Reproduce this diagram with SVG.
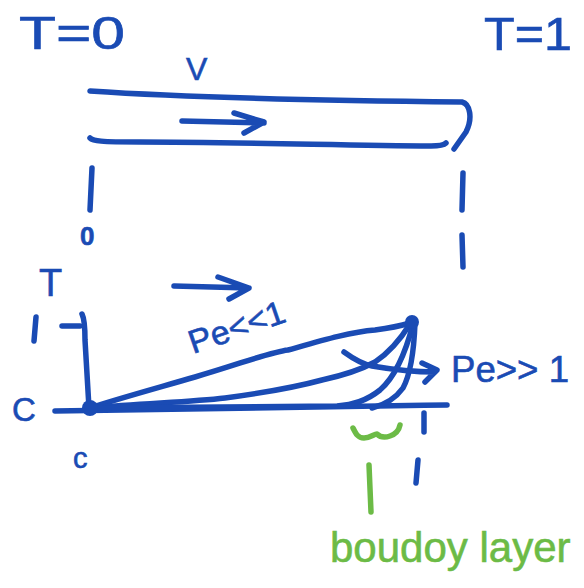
<svg xmlns="http://www.w3.org/2000/svg" width="584" height="588" viewBox="0 0 584 588">
<style>
.b{fill:none;stroke:#1a4bb4;stroke-width:5.5;stroke-linecap:round;stroke-linejoin:round}
.g{fill:none;stroke:#6cbb46;stroke-width:5.5;stroke-linecap:round;stroke-linejoin:round}
.bt{fill:#1a4bb4;stroke:#1a4bb4;stroke-width:0.6;font-family:"Liberation Sans",Arial,sans-serif}
.gt{fill:#6cbb46;stroke:#6cbb46;stroke-width:0.6;font-family:"Liberation Sans",Arial,sans-serif}
.dot{fill:#1a4bb4}
</style>
<rect width="584" height="588" fill="#ffffff"/>
<!-- top labels -->
<text class="bt" x="19" y="49" font-size="46" textLength="106" lengthAdjust="spacingAndGlyphs">T=0</text>
<text class="bt" x="484" y="50" font-size="46" textLength="88" lengthAdjust="spacingAndGlyphs">T=1</text>
<text class="bt" x="186" y="80" font-size="32">V</text>
<!-- pipe -->
<g id="pipe">
<path class="b" d="M90,91 C150,95 262,100 462,102 C470,104 473,118 466,132 L454,149"/>
<path class="b" d="M90,138 C93,141 100,142 140,142 C225,142 337,145 431,146 C440,146 444,145 446,143"/>
<path class="b" d="M182,121 L264,123 M234,113 L264,122 L244,133"/>
</g>
<!-- dashed guides -->
<g id="guides">
<path class="b" d="M92,168 L90,210"/>
<path class="b" d="M463,173 L462,210 M462,235 L463,267"/>
</g>
<text class="bt" x="80" y="245" font-size="26" font-weight="bold">0</text>
<!-- plot -->
<text class="bt" x="39" y="296" font-size="38">T</text>
<path class="b" d="M174,286 L249,288 M218,277 L249,288 L229,299"/>
<g id="axes">
<path class="b" d="M82,314 C84,318 85,325 85,340 L89,408"/>
<path class="b" d="M62,326 L80,326"/>
<path class="b" d="M36,317 L34,341"/>
<path class="b" d="M55,411 C150,409 300,407 447,405"/>
<path class="b" d="M424,413 L424,432"/>
</g>
<text class="bt" x="12" y="421" font-size="33">C</text>
<text class="bt" x="73" y="468" font-size="29">c</text>
<g id="curves">
<path class="b" d="M90,408 C110,401 150,390 195,377 C240,364 270,352 288,350 C320,341 350,332 375,330 C390,328 400,326 410,323"/>
<path class="b" d="M90,408 C150,403 190,402 225,398 C270,392 300,386 322,380 C345,375 362,369 375,362 C390,352 400,340 410,324"/>
<path class="b" d="M90,408 C200,407 300,407 337,406 C355,405 370,398 380,390 C395,377 405,355 413,324"/>
<path class="b" d="M372,408 C388,404 398,395 403,388 C410,375 414,350 415,323"/>
<circle class="dot" cx="90" cy="408" r="8"/>
<circle class="dot" cx="412" cy="322" r="7"/>
</g>
<path class="b" d="M344,352 C355,360 362,364 372,366 C395,370 415,372 435,372 M422,363 L437,370 L425,382"/>
<text class="bt" x="193" y="354" font-size="33" textLength="100" lengthAdjust="spacingAndGlyphs" transform="rotate(-19 193 354)">Pe&lt;&lt;1</text>
<text class="bt" x="451" y="382" font-size="37" textLength="118" lengthAdjust="spacingAndGlyphs">Pe&gt;&gt; 1</text>
<!-- boundary layer -->
<path class="g" d="M353,428 C356,434 358,438 364,438 C370,438 374,434 377,434 C380,437 384,438 390,436 C396,434 399,430 400,425"/>
<path class="g" d="M369,465 L371,512"/>
<path class="b" d="M418,460 L416,483"/>
<text class="gt" x="330" y="562" font-size="42">boudoy layer</text>
</svg>
